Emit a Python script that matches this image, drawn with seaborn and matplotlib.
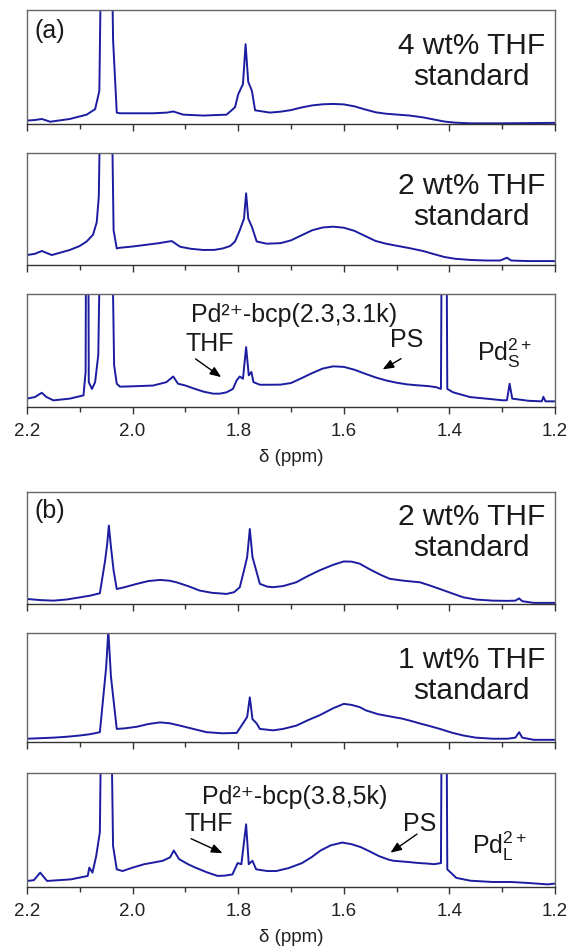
import matplotlib
matplotlib.use('Agg')

import matplotlib.pyplot as plt
import matplotlib.ticker as mticker
import seaborn as sns

# ==============================================================================
# 數據：各圖譜 (ppm, 相對強度)
# ==============================================================================
ppm_a1 = [2.200, 2.185, 2.172, 2.156, 2.119, 2.087, 2.071, 2.063, 2.050, 2.037,
          2.030, 2.024, 1.990, 1.961, 1.935, 1.923, 1.904, 1.866, 1.822, 1.806,
          1.800, 1.791, 1.786, 1.781, 1.774, 1.768, 1.740, 1.720, 1.700, 1.680,
          1.660, 1.640, 1.620, 1.600, 1.580, 1.560, 1.540, 1.520, 1.500, 1.475,
          1.450, 1.430, 1.410, 1.390, 1.360, 1.300, 1.200]
int_a1 = [0.030, 0.035, 0.044, 0.020, 0.044, 0.082, 0.130, 0.290, 5.000, 0.740,
          0.100, 0.094, 0.094, 0.094, 0.100, 0.110, 0.082, 0.074, 0.082, 0.147,
          0.260, 0.350, 0.700, 0.370, 0.290, 0.120, 0.100, 0.108, 0.122, 0.145,
          0.163, 0.173, 0.176, 0.172, 0.155, 0.128, 0.103, 0.090, 0.083, 0.074,
          0.058, 0.040, 0.022, 0.012, 0.006, 0.006, 0.010]

ppm_a2 = [2.200, 2.185, 2.172, 2.153, 2.119, 2.100, 2.087, 2.075, 2.068, 2.064,
          2.050, 2.036, 2.030, 2.024, 2.000, 1.975, 1.950, 1.926, 1.910, 1.890,
          1.866, 1.845, 1.829, 1.815, 1.806, 1.797, 1.789, 1.785, 1.781, 1.774,
          1.765, 1.746, 1.720, 1.700, 1.680, 1.660, 1.640, 1.620, 1.600, 1.580,
          1.560, 1.540, 1.520, 1.500, 1.475, 1.450, 1.430, 1.410, 1.390, 1.360,
          1.330, 1.304, 1.291, 1.283, 1.250, 1.200]
int_a2 = [0.089, 0.100, 0.125, 0.089, 0.134, 0.170, 0.210, 0.270, 0.380, 0.610,
          5.000, 0.310, 0.148, 0.154, 0.165, 0.180, 0.195, 0.214, 0.163, 0.145,
          0.134, 0.135, 0.148, 0.170, 0.210, 0.310, 0.415, 0.640, 0.415, 0.340,
          0.210, 0.190, 0.195, 0.220, 0.265, 0.310, 0.335, 0.342, 0.333, 0.305,
          0.260, 0.215, 0.190, 0.172, 0.150, 0.125, 0.098, 0.072, 0.056, 0.045,
          0.040, 0.040, 0.065, 0.040, 0.035, 0.035]

ppm_a3 = [2.200, 2.185, 2.172, 2.163, 2.150, 2.119, 2.093, 2.089, 2.086, 2.083,
          2.077, 2.071, 2.065, 2.050, 2.035, 2.030, 2.024, 2.000, 1.961, 1.936,
          1.923, 1.914, 1.900, 1.885, 1.865, 1.847, 1.835, 1.822, 1.810, 1.803,
          1.797, 1.791, 1.785, 1.780, 1.775, 1.771, 1.759, 1.740, 1.720, 1.700,
          1.680, 1.660, 1.640, 1.620, 1.600, 1.580, 1.560, 1.540, 1.520, 1.500,
          1.480, 1.460, 1.440, 1.425, 1.416, 1.410, 1.404, 1.393, 1.361, 1.298,
          1.291, 1.286, 1.281, 1.250, 1.225, 1.222, 1.218, 1.200]
int_a3 = [0.074, 0.088, 0.126, 0.088, 0.059, 0.074, 0.103, 0.310, 5.000, 0.220,
          0.160, 0.220, 0.460, 5.000, 0.370, 0.206, 0.180, 0.183, 0.190, 0.220,
          0.270, 0.206, 0.190, 0.165, 0.135, 0.118, 0.118, 0.130, 0.160, 0.235,
          0.270, 0.250, 0.530, 0.280, 0.310, 0.220, 0.197, 0.197, 0.198, 0.212,
          0.255, 0.300, 0.340, 0.360, 0.355, 0.330, 0.295, 0.262, 0.235, 0.215,
          0.200, 0.192, 0.185, 0.175, 0.160, 6.000, 0.160, 0.130, 0.088, 0.059,
          0.060, 0.206, 0.074, 0.055, 0.050, 0.090, 0.050, 0.050]

ppm_b1 = [2.200, 2.175, 2.150, 2.125, 2.099, 2.080, 2.062, 2.052, 2.048, 2.045,
          2.041, 2.036, 2.030, 2.015, 1.992, 1.970, 1.948, 1.930, 1.917, 1.895,
          1.873, 1.850, 1.822, 1.808, 1.797, 1.789, 1.783, 1.778, 1.773, 1.766,
          1.759, 1.745, 1.734, 1.715, 1.690, 1.668, 1.646, 1.620, 1.600, 1.585,
          1.570, 1.551, 1.530, 1.513, 1.490, 1.470, 1.456, 1.440, 1.418, 1.395,
          1.374, 1.350, 1.318, 1.290, 1.275, 1.268, 1.262, 1.240, 1.200]
int_b1 = [0.045, 0.035, 0.030, 0.040, 0.060, 0.075, 0.096, 0.390, 0.540, 0.700,
          0.510, 0.300, 0.134, 0.150, 0.180, 0.205, 0.215, 0.208, 0.194, 0.160,
          0.120, 0.100, 0.090, 0.105, 0.150, 0.300, 0.420, 0.670, 0.420, 0.300,
          0.180, 0.155, 0.150, 0.160, 0.194, 0.250, 0.300, 0.350, 0.380, 0.378,
          0.360, 0.310, 0.260, 0.225, 0.210, 0.200, 0.194, 0.170, 0.134, 0.095,
          0.060, 0.040, 0.030, 0.028, 0.030, 0.050, 0.025, 0.010, 0.010]

ppm_b2 = [2.200, 2.175, 2.150, 2.125, 2.099, 2.080, 2.062, 2.055, 2.050, 2.046,
          2.041, 2.036, 2.030, 2.015, 1.992, 1.970, 1.948, 1.930, 1.910, 1.885,
          1.860, 1.830, 1.803, 1.791, 1.783, 1.778, 1.773, 1.765, 1.759, 1.734,
          1.715, 1.690, 1.668, 1.646, 1.620, 1.600, 1.585, 1.570, 1.558, 1.535,
          1.513, 1.490, 1.470, 1.456, 1.440, 1.418, 1.395, 1.374, 1.350, 1.318,
          1.290, 1.275, 1.268, 1.262, 1.240, 1.200]
int_b2 = [0.030, 0.035, 0.040, 0.048, 0.060, 0.072, 0.090, 0.440, 0.690, 1.020,
          0.600, 0.380, 0.120, 0.125, 0.140, 0.165, 0.180, 0.172, 0.150, 0.120,
          0.090, 0.080, 0.083, 0.170, 0.230, 0.410, 0.210, 0.170, 0.120, 0.107,
          0.120, 0.150, 0.200, 0.245, 0.310, 0.350, 0.340, 0.320, 0.290, 0.255,
          0.235, 0.215, 0.190, 0.170, 0.150, 0.120, 0.085, 0.060, 0.040, 0.030,
          0.030, 0.040, 0.090, 0.040, 0.020, 0.020]

ppm_b3 = [2.200, 2.187, 2.175, 2.162, 2.117, 2.085, 2.082, 2.076, 2.069, 2.062,
          2.051, 2.037, 2.030, 2.019, 2.000, 1.978, 1.960, 1.943, 1.929, 1.922,
          1.912, 1.895, 1.881, 1.860, 1.839, 1.825, 1.811, 1.801, 1.794, 1.785,
          1.780, 1.773, 1.766, 1.745, 1.728, 1.705, 1.679, 1.660, 1.644, 1.625,
          1.603, 1.585, 1.568, 1.550, 1.533, 1.515, 1.506, 1.480, 1.457, 1.440,
          1.429, 1.416, 1.410, 1.404, 1.387, 1.360, 1.318, 1.283, 1.250, 1.214,
          1.200]
int_b3 = [0.053, 0.060, 0.126, 0.053, 0.067, 0.097, 0.170, 0.126, 0.270, 0.480,
          5.000, 0.360, 0.155, 0.140, 0.170, 0.200, 0.215, 0.230, 0.260, 0.320,
          0.245, 0.200, 0.170, 0.130, 0.097, 0.100, 0.110, 0.210, 0.200, 0.550,
          0.200, 0.230, 0.155, 0.140, 0.140, 0.165, 0.210, 0.265, 0.320, 0.365,
          0.390, 0.375, 0.350, 0.310, 0.270, 0.240, 0.230, 0.220, 0.210, 0.205,
          0.200, 0.210, 6.000, 0.155, 0.080, 0.055, 0.044, 0.044, 0.035, 0.023,
          0.030]

spectra = [(ppm_a1, int_a1), (ppm_a2, int_a2), (ppm_a3, int_a3),
           (ppm_b1, int_b1), (ppm_b2, int_b2), (ppm_b3, int_b3)]

standard_labels = {0: '4 wt% THF\nstandard', 1: '2 wt% THF\nstandard',
                   3: '2 wt% THF\nstandard', 4: '1 wt% THF\nstandard'}
standard_ypos = {0: 0.555, 1: 0.578, 3: 0.65, 4: 0.62}

# ==============================================================================
# 版面：各面板的像素位置 (上, 下)
# ==============================================================================
W, H = 576, 953
panel_px = [(11, 125), (154, 266), (295, 408), (493, 605), (634, 743), (774, 888)]
left_px, right_px = 27, 555

sns.set_theme(style="ticks")
plt.rcParams['font.family'] = ['Liberation Sans', 'DejaVu Sans']
plt.rcParams['mathtext.fontset'] = 'custom'
plt.rcParams['mathtext.rm'] = 'Liberation Sans'

line_color = '#1c1ca0'
spine_color = '#666666'

fig = plt.figure(figsize=(W / 100, H / 100), dpi=100)
axes = []
for i, (top, bottom) in enumerate(panel_px):
    rect = [left_px / W, 1 - bottom / H, (right_px - left_px) / W, (bottom - top) / H]
    ax = fig.add_axes(rect)
    x, y = spectra[i]
    sns.lineplot(x=x, y=y, ax=ax, color=line_color, linewidth=1.4,
                 estimator=None, sort=False)
    ax.set_xlim(2.2, 1.2)
    ax.set_ylim(0, 1)
    ax.set_yticks([])
    ax.set_ylabel('')
    ax.xaxis.set_major_locator(mticker.MultipleLocator(0.2))
    ax.xaxis.set_minor_locator(mticker.MultipleLocator(0.1))
    ax.xaxis.set_major_formatter(mticker.FormatStrFormatter('%.1f'))
    ax.tick_params(axis='x', which='major', direction='out', length=5, width=1,
                   color='#333333', labelsize=13.5, labelcolor='#222222', pad=6)
    ax.tick_params(axis='x', which='minor', direction='out', length=3.5, width=1,
                   color='#333333')
    for s in ax.spines.values():
        s.set_visible(True)
        s.set_color(spine_color)
        s.set_linewidth(1.0)
    ax.spines['bottom'].set_color('#333333')
    if i in (2, 5):
        ax.set_xlabel('δ (ppm)', fontsize=13.5, labelpad=6, color='#222222')
    else:
        ax.tick_params(axis='x', which='both', labelbottom=False)
        ax.set_xlabel('')
    if i in standard_labels:
        ax.text(0.842, standard_ypos[i], standard_labels[i], transform=ax.transAxes,
                ha='center', va='center', fontsize=21.5, linespacing=1.15,
                color='#1a1a1a')
    axes.append(ax)

axes[0].text(0.015, 0.93, '(a)', transform=axes[0].transAxes, ha='left', va='top',
             fontsize=18, color='#1a1a1a')
axes[3].text(0.015, 0.95, '(b)', transform=axes[3].transAxes, ha='left', va='top',
             fontsize=18, color='#1a1a1a')

arrow_kw = dict(arrowstyle='-|>,head_length=0.55,head_width=0.22', color='black', lw=1.0)
ann_size = 18

# 面板 (a) 第三張
ax = axes[2]
ax.text(0.506, 0.82, 'Pd²⁺-bcp(2.3,3.1k)', transform=ax.transAxes,
        ha='center', va='center', fontsize=ann_size, color='#1a1a1a')
ax.text(0.347, 0.57, 'THF', transform=ax.transAxes, ha='center', va='center',
        fontsize=ann_size, color='#1a1a1a')
ax.annotate('', xy=(0.372, 0.25), xytext=(0.315, 0.44), xycoords='axes fraction',
            textcoords='axes fraction', arrowprops=arrow_kw)
ax.text(0.72, 0.60, 'PS', transform=ax.transAxes, ha='center', va='center',
        fontsize=ann_size, color='#1a1a1a')
ax.annotate('', xy=(0.669, 0.32), xytext=(0.713, 0.44), xycoords='axes fraction',
            textcoords='axes fraction', arrowprops=arrow_kw)
ax.text(0.905, 0.48, 'Pd$_\\mathregular{S}^\\mathregular{2+}$', transform=ax.transAxes,
        ha='center', va='center', fontsize=ann_size, color='#1a1a1a')

# 面板 (b) 第三張
ax = axes[5]
ax.text(0.507, 0.80, 'Pd²⁺-bcp(3.8,5k)', transform=ax.transAxes,
        ha='center', va='center', fontsize=ann_size, color='#1a1a1a')
ax.text(0.345, 0.56, 'THF', transform=ax.transAxes, ha='center', va='center',
        fontsize=ann_size, color='#1a1a1a')
ax.annotate('', xy=(0.375, 0.287), xytext=(0.306, 0.434), xycoords='axes fraction',
            textcoords='axes fraction', arrowprops=arrow_kw)
ax.text(0.744, 0.56, 'PS', transform=ax.transAxes, ha='center', va='center',
        fontsize=ann_size, color='#1a1a1a')
ax.annotate('', xy=(0.684, 0.287), xytext=(0.743, 0.478), xycoords='axes fraction',
            textcoords='axes fraction', arrowprops=arrow_kw)
ax.text(0.896, 0.37, 'Pd$_\\mathregular{L}^\\mathregular{2+}$', transform=ax.transAxes,
        ha='center', va='center', fontsize=ann_size, color='#1a1a1a')

plt.savefig('out.png', dpi=100)
plt.close()
